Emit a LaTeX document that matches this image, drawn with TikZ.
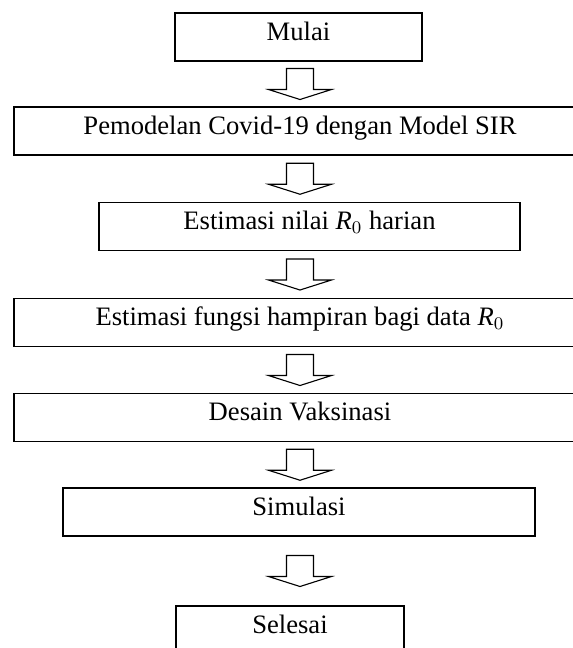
\documentclass[tikz,border=0pt]{standalone}
\usepackage{fontspec}
\setmainfont{Liberation Serif}
\usetikzlibrary{calc}

\begin{document}
\begin{tikzpicture}[
    % define styles
    x=0.451pt, y=-0.451pt,
    box/.style={
        draw,
        line width=0.8pt,
        minimum height=21.6pt,
        inner sep=0pt,
        font=\fontsize{12}{14}\selectfont,
        text height=8.5pt,
        text depth=5.7pt
    },
    wide/.style={
        box,
        minimum width=258pt
    },
    blockarrow/.style={
        draw,
        line width=0.5pt,
        fill=white
    }
]
% page frame, right side and bottom are cut like in the original
\useasboundingbox (0,0) rectangle (573,648);
\clip (0,0) rectangle (573,648);

% process boxes
\node[box, minimum width=111.4pt] (mulai) at (298.5,37) {Mulai};
\node[wide] (model) at (300,131) {Pemodelan Covid-19 dengan Model SIR};
\node[box, minimum width=190pt] (rnol) at (309.5,226.5) {Estimasi nilai $\mathit{R}_0$ harian};
\node[wide] (fungsi) at (300,322.5) {Estimasi fungsi hampiran bagi data $\mathit{R}_0$};
\node[wide] (desain) at (300,417.5) {Desain Vaksinasi};
\node[box, minimum width=213pt] (simulasi) at (299,512) {Simulasi};
\node[box, minimum width=102.8pt] (selesai) at (290,630) {Selesai};

% hollow arrows between boxes
\foreach \a/\b in {mulai/model, model/rnol, rnol/fungsi, fungsi/desain, desain/simulasi, simulasi/selesai} {
    \coordinate (m) at ($(\a.south)!.5!(\b.north)$);
    \draw[blockarrow] (m -| model) ++(-13.5,-15.5) -- ++(27,0) -- ++(0,21) -- ++(18,0)
        -- ++(-31.5,10) -- ++(-31.5,-10) -- ++(18,0) -- cycle;
}
\end{tikzpicture}
\end{document}
